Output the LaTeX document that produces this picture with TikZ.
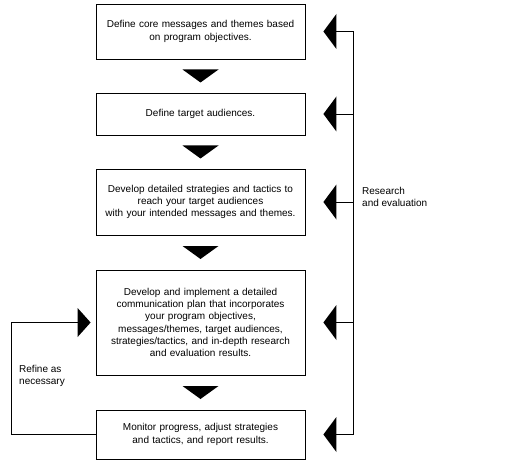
\documentclass[tikz,border=0pt]{standalone}
\usepackage{fontspec}
\setmainfont{Liberation Sans}
\usetikzlibrary{calc}
\begin{document}
\begin{tikzpicture}[x=1pt,y=-1pt,
  stepbox/.style={draw=black,line width=0.8pt,minimum width=209pt,text width=205pt,align=center,inner sep=0pt,font=\fontsize{10}{12.2}\selectfont},
  lbl/.style={align=left,inner sep=0pt,anchor=north west,font=\fontsize{10}{12.2}\selectfont},
  conn/.style={line width=0.8pt}]
\useasboundingbox (0,0) rectangle (526,462);
\node[stepbox,minimum height=55pt] (b1) at (200.5,31.5) {Define core messages and themes based\\on program objectives.};
\node[stepbox,minimum height=42pt] (b2) at (200.5,114) {Define target audiences.};
\node[stepbox,minimum height=66pt] (b3) at (200.5,202) {Develop detailed strategies and tactics to\\reach your target audiences\\with your intended messages and themes.};
\node[stepbox,minimum height=105pt] (b4) at (200.5,322.5) {Develop and implement a detailed\\communication plan that incorporates\\your program objectives,\\messages/themes, target audiences,\\strategies/tactics, and in-depth research\\and evaluation results.};
\node[stepbox,minimum height=49pt] (b5) at (200.5,434.5) {Monitor progress, adjust strategies\\and tactics, and report results.};
% down triangles
\foreach \a/\b in {b1/b2,b2/b3,b3/b4,b4/b5}{
  \path let \p1=(\a.south), \p2=(\b.north) in coordinate (m) at ($ (\p1)!0.5!(\p2) $);
  \fill ($(m)+(-18,-6.5)$) -- ($(m)+(18,-6.5)$) -- ($(m)+(0,6.5)$) -- cycle;
}
% right feedback
\coordinate (top) at ($(b1.east)+(48,0)$);
\coordinate (bot) at ($(b5.east)+(48,0)$);
\draw[conn] (top) -- (bot);
\foreach \n in {b1,b2,b3,b4,b5}{
  \fill ($(\n.east)+(18,0)$) -- ($(\n.east)+(31,-17.5)$) -- ($(\n.east)+(31,17.5)$) -- cycle;
  \draw[conn] ($(\n.east)+(31,0)$) -- ($(\n.east)+(48,0)$);
}
\node[lbl] (re) at (362,187) {Research\\and evaluation};
% left loop
\coordinate (l1) at ($(b5.west)+(-84,0)$);
\coordinate (l2) at ($(b4.west)+(-84,0)$);
\draw[conn] (b5.west) -- (l1) -- (l2) -- ($(b4.west)+(-18,0)$);
\fill ($(b4.west)+(-5,0)$) -- ($(b4.west)+(-18,-14.5)$) -- ($(b4.west)+(-18,14.5)$) -- cycle;
\node[lbl] (rf) at (19,365) {Refine as\\necessary};
\end{tikzpicture}
\end{document}
